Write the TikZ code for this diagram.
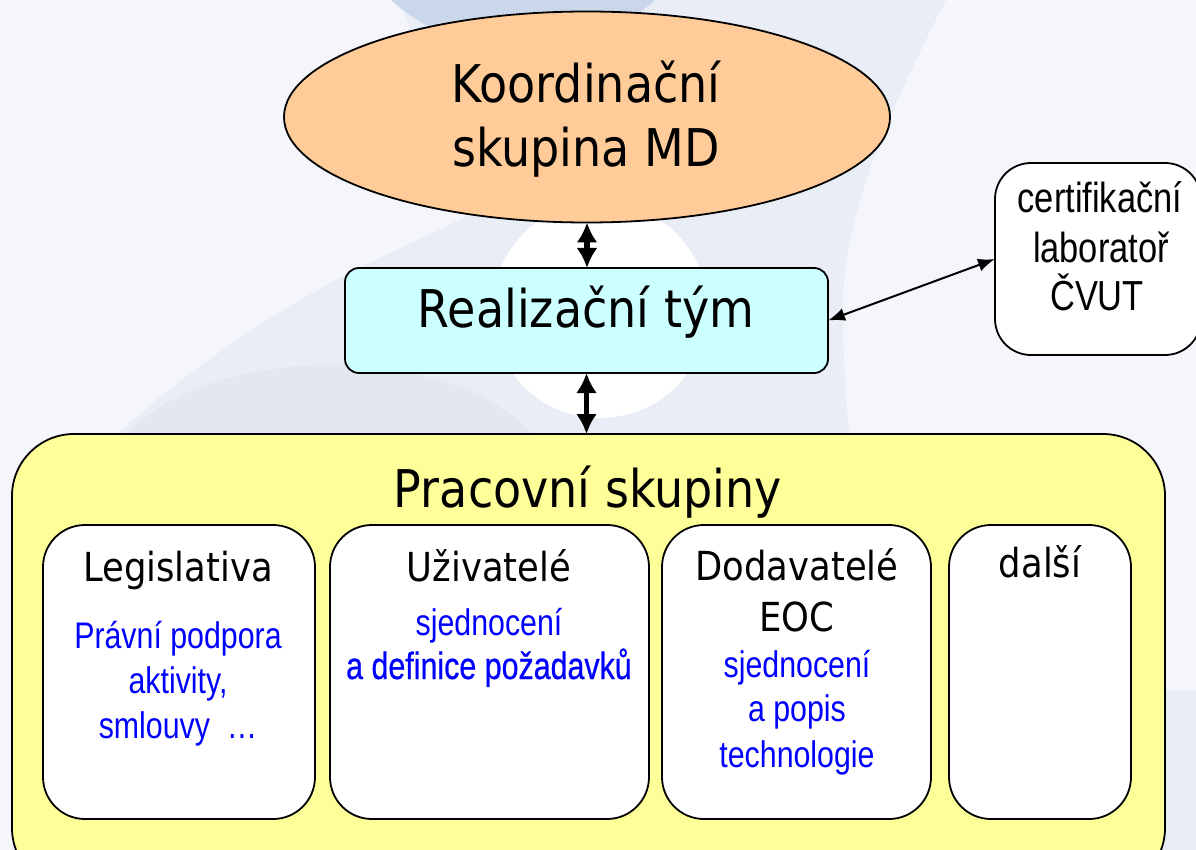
\documentclass[tikz,border=0pt]{standalone}
\usepackage{fontspec}
\usetikzlibrary{shapes.geometric,arrows.meta}
\newfontfamily\tah[FakeStretch=0.885]{DejaVu Sans}
\newfontfamily\nar[FakeStretch=0.82]{Liberation Sans}
\newfontfamily\narb[FakeStretch=0.80,FakeBold=0.6]{Liberation Sans}
\definecolor{bgbase}{HTML}{F4F6FB}
\definecolor{bglight}{HTML}{E9EDF6}
\definecolor{bgmid}{HTML}{E2E7F2}
\definecolor{bgdark}{HTML}{CAD6EA}
\definecolor{peach}{HTML}{FFCC99}
\definecolor{cyanbox}{HTML}{CCFFFF}
\definecolor{yelbox}{HTML}{FFFF99}
\definecolor{bluetxt}{HTML}{0000FF}
\tikzset{
  shp/.style={draw=black, line width=1.8pt, inner sep=0pt, outer sep=0pt},
  rbox/.style={shp, rectangle, rounded corners=#1},
  txt/.style={anchor=base, inner sep=0pt, outer sep=0pt},
  bigtxt/.style={txt, font=\tah\fontsize{52}{60}\selectfont},
  midtxt/.style={txt, font=\tah\fontsize{40}{48}\selectfont},
  blutxt/.style={txt, text=bluetxt, font=\nar\fontsize{37}{44}\selectfont},
  blutxtw/.style={txt, text=bluetxt, font=\narb\fontsize{38}{44}\selectfont},
  certxt/.style={txt, font=\nar\fontsize{42}{50}\selectfont},
  thickarr/.style={line width=5.5pt, {Latex[length=20pt,width=21pt]}-{Latex[length=20pt,width=21pt]}},
  thinarr/.style={line width=2pt, {Latex[length=17pt,width=13pt]}-{Latex[length=17pt,width=13pt]}}
}
\begin{document}
\begin{tikzpicture}[x=1pt,y=-1pt]
\useasboundingbox (0,0) rectangle (1196,850);
\begin{scope}
\clip (0,0) rectangle (1196,850);
% background watermark
\fill[bgbase] (0,0) rectangle (1196,850);
\fill[bglight] (400,-2) -- (947,-2) .. controls (905,80) and (845,200) .. (843,300)
  .. controls (842,360) and (848,420) .. (850,440) -- (110,440)
  .. controls (220,340) and (330,280) .. (397,250) -- (470,215) -- cycle;
\fill[bgmid] (330,480) ellipse [x radius=220, y radius=115];
\fill[bgdark] (523,-150) circle (200);
\fill[white] (600,310) circle (108);
\fill[bglight] (1160,690) rectangle (1196,850);

% shapes
\node[shp, ellipse, fill=peach, minimum width=606pt, minimum height=211pt] (ell) at (587,117) {};
\node[rbox=14pt, fill=cyanbox, minimum width=483pt, minimum height=105pt] (real) at (586.5,320.5) {};
\node[rbox=36pt, fill=white, minimum width=206pt, minimum height=192pt] (cert) at (1098,259) {};
\node[rbox=62pt, fill=yelbox, minimum width=1153pt, minimum height=456pt] (yel) at (588.5,662) {};
\node[rbox=42pt, fill=white, minimum width=272pt, minimum height=294pt] (leg) at (179,672) {};
\node[rbox=42pt, fill=white, minimum width=319pt, minimum height=294pt] (uzi) at (489.5,672) {};
\node[rbox=42pt, fill=white, minimum width=269pt, minimum height=294pt] (dod) at (796.5,672) {};
\node[rbox=42pt, fill=white, minimum width=182pt, minimum height=294pt] (dal) at (1040,672) {};

% connectors
\draw[thickarr] (ell.south) -- (ell.south |- real.north);
\draw[thickarr] (real.south) -- (real.south |- yel.north);
\draw[thinarr] (real.east) -- (cert.west);

% texts
\node[bigtxt] (t1) at (586,103) {Koordinační};
\node[bigtxt] (t2) at (586,167) {skupina MD};
\node[bigtxt] (t3) at (586,327) {Realizační tým};
\node[bigtxt] (t4) at (588,507) {Pracovní skupiny};
\node[certxt] (c1) at (1100,213) {certifikační};
\node[certxt] (c2) at (1101,262) {laboratoř};
\node[certxt] (c3) at (1097,310) {ČVUT};
\node[midtxt] (l1) at (178,581) {Legislativa};
\node[blutxt] (l2) at (178,648) {Právní podpora};
\node[blutxt] (l3) at (178,693) {aktivity,};
\node[blutxt] (l4) at (178,738) {smlouvy\ \ …};
\node[midtxt] (u1) at (489,581) {Uživatelé};
\node[blutxt] (u2) at (489,635) {sjednocení};
\node[blutxtw] (u3) at (489,679) {a definice požadavků};
\node[midtxt] (d1) at (797,580) {Dodavatelé};
\node[midtxt] (d2) at (797,631) {EOC};
\node[blutxt] (d3) at (797,677) {sjednocení};
\node[blutxt] (d4) at (797,721) {a popis};
\node[blutxt] (d5) at (797,767) {technologie};
\node[midtxt] (a1) at (1040,577) {další};
\end{scope}
\end{tikzpicture}
\end{document}
